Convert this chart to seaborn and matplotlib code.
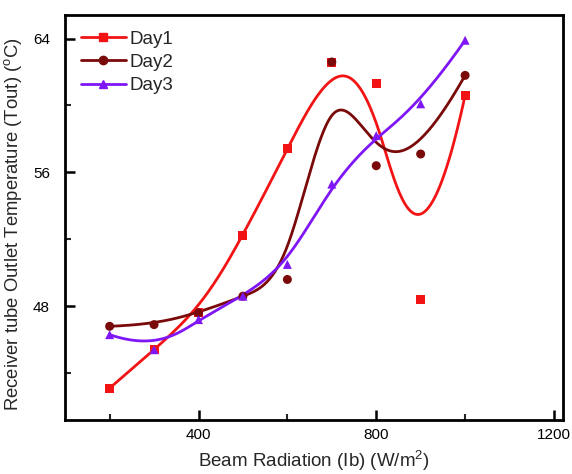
import numpy as np
import pandas as pd
import matplotlib
matplotlib.use('Agg')
import matplotlib.pyplot as plt
from matplotlib.lines import Line2D
from matplotlib.ticker import MultipleLocator
import seaborn as sns

# data
radiation = [200, 300, 400, 500, 600, 700, 800, 900, 1000]
day1 = [43.1, 45.4, 47.6, 52.2, 57.4, 62.6, 61.3, 48.4, 60.6]
day2 = [46.8, 46.9, 47.6, 48.6, 49.6, 62.6, 56.4, 57.1, 61.8]
day3 = [46.3, 45.4, 47.2, 48.6, 50.5, 55.3, 58.2, 60.1, 63.9]
days = ['Day1', 'Day2', 'Day3']
colors = {'Day1': '#F21414', 'Day2': '#7A0A0A', 'Day3': '#7F16F5'}
markers = {'Day1': 's', 'Day2': 'o', 'Day3': '^'}

sns.set_style('ticks')
plt.rcParams['font.family'] = ['Liberation Sans', 'DejaVu Sans']
plt.rcParams['mathtext.fontset'] = 'custom'
plt.rcParams['mathtext.rm'] = 'Liberation Sans'
plt.rcParams['mathtext.it'] = 'Liberation Sans'


def bspline(px, py, n_out=300):
    # clamped cubic B-spline using the data points as control points
    # (the "B-Spline" connect style of the original plot)
    P = np.column_stack([px, py]).astype(float)
    n = len(P)
    k = 3
    inner = np.arange(1, n - k)
    knots = np.concatenate([[0] * (k + 1), inner, [n - k] * (k + 1)]).astype(float)
    t = np.linspace(0, n - k, n_out)
    t[-1] -= 1e-9
    N = np.zeros((n_out, len(knots) - 1))
    for i in range(len(knots) - 1):
        N[:, i] = (t >= knots[i]) & (t < knots[i + 1])
    for d in range(1, k + 1):
        Nn = np.zeros((n_out, len(knots) - 1 - d))
        for i in range(len(knots) - 1 - d):
            a = knots[i + d] - knots[i]
            b = knots[i + d + 1] - knots[i + 1]
            left = (t - knots[i]) / a * N[:, i] if a > 0 else 0
            right = (knots[i + d + 1] - t) / b * N[:, i + 1] if b > 0 else 0
            Nn[:, i] = left + right
        N = Nn
    C = N @ P
    return C[:, 0], C[:, 1]


pts = pd.DataFrame({'x': radiation * 3,
                    'y': day1 + day2 + day3,
                    'day': np.repeat(days, len(radiation))})

curves = []
for d, vals in zip(days, [day1, day2, day3]):
    cx, cy = bspline(radiation, vals)
    curves.append(pd.DataFrame({'x': cx, 'y': cy, 'day': d}))
curves = pd.concat(curves, ignore_index=True)

fig = plt.figure(figsize=(5.72, 4.74), dpi=100)
ax = fig.add_axes([0.114, 0.114, 0.870, 0.854])

sns.lineplot(data=curves, x='x', y='y', hue='day', palette=colors, sort=False,
             estimator=None, linewidth=2, legend=False, ax=ax)
sns.scatterplot(data=pts, x='x', y='y', hue='day', style='day', palette=colors,
                markers=markers, s=42, linewidth=0, legend=False, ax=ax, zorder=3)

ax.set_xlim(100, 1220)
ax.set_ylim(41.2, 65.4)
ax.xaxis.set_major_locator(MultipleLocator(400))
ax.xaxis.set_minor_locator(MultipleLocator(200))
ax.yaxis.set_major_locator(MultipleLocator(8))
ax.yaxis.set_minor_locator(MultipleLocator(4))
ax.tick_params(which='major', direction='in', length=7, width=1.8, labelsize=11, colors='black')
ax.tick_params(which='minor', direction='in', length=4, width=1.5)
ax.tick_params(axis='x', which='major', pad=6)
ax.tick_params(axis='y', which='major', pad=11)
for s in ax.spines.values():
    s.set_linewidth(2)
    s.set_color('black')

ax.set_xlabel('Beam Radiation (Ib) (W/m$^2$)', fontsize=13.5, labelpad=5)
ax.set_ylabel('Receiver tube Outlet Temperature (Tout) ($^o$C)', fontsize=13.3)
ax.yaxis.set_label_coords(-0.083, 0.484)

handles = [Line2D([], [], color=colors[d], marker=markers[d], markersize=6, lw=2) for d in days]
ax.legend(handles, days, loc='upper left', frameon=False, fontsize=13.5,
          handlelength=2.4, handletextpad=0.2, labelspacing=0.33,
          borderaxespad=0.42, bbox_to_anchor=(0.0, 1.0))

fig.savefig('out.png', dpi=100)
